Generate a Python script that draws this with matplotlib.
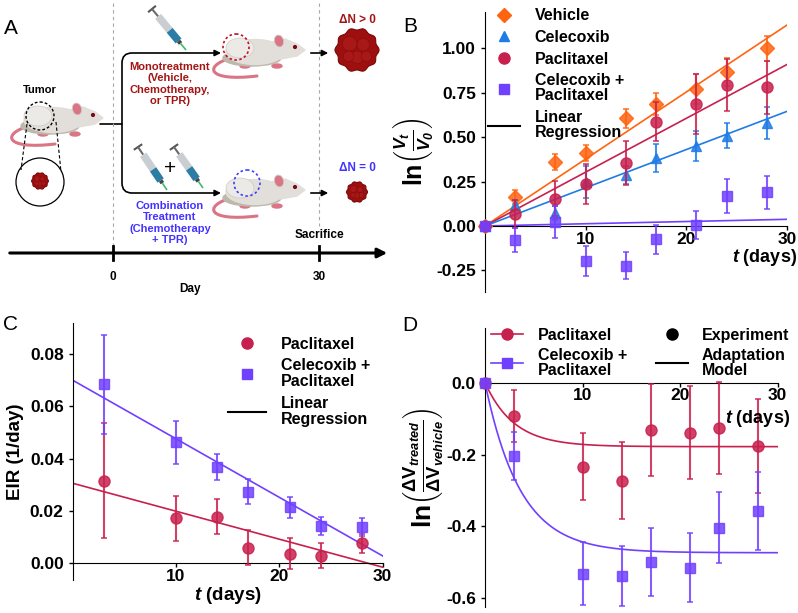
import numpy as np
import matplotlib
matplotlib.use("Agg")
import matplotlib.pyplot as plt
from matplotlib.patches import Ellipse, Circle, Polygon, FancyArrowPatch, PathPatch
from matplotlib.path import Path
from matplotlib.lines import Line2D
from matplotlib.ticker import FormatStrFormatter

plt.rcParams['font.family'] = ['Liberation Sans', 'DejaVu Sans']
plt.rcParams['font.weight'] = 'bold'
plt.rcParams['axes.labelweight'] = 'bold'
plt.rcParams['mathtext.fontset'] = 'custom'
plt.rcParams['mathtext.rm'] = 'Liberation Sans:bold'
plt.rcParams['mathtext.it'] = 'Liberation Sans:italic:bold'
plt.rcParams['mathtext.bf'] = 'Liberation Sans:bold'
plt.rcParams['mathtext.bfit'] = 'Liberation Sans:italic:bold'

ORANGE = '#FF6410'
BLUE = '#1F7BE6'
CRIMSON = '#C8204E'
PURPLE = '#7040FF'
DARKRED = '#A31515'
TXTBLUE = '#4433FF'

######################################################################
# datos panel B: ln(Vt/V0)
days_b = [0, 3, 7, 10, 14, 17, 21, 24, 28]
vehicle = [0, 0.165, 0.358, 0.413, 0.606, 0.687, 0.769, 0.865, 1.0]
vehicle_err = [0, 0.04, 0.045, 0.045, 0.055, 0.06, 0.085, 0.08, 0.07]
celecoxib = [0, 0.118, 0.071, 0.25, 0.287, 0.381, 0.45, 0.507, 0.582]
celecoxib_err = [0, 0.03, 0.04, 0.09, 0.05, 0.08, 0.085, 0.07, 0.09]
paclitaxel = [0, 0.068, 0.154, 0.236, 0.356, 0.587, 0.687, 0.794, 0.78]
paclitaxel_err = [0, 0.08, 0.1, 0.115, 0.125, 0.11, 0.17, 0.145, 0.15]
combo = [0, -0.079, 0.024, -0.197, -0.223, -0.075, 0.006, 0.169, 0.189]
combo_err = [0, 0.07, 0.09, 0.085, 0.075, 0.08, 0.08, 0.095, 0.095]
# pendientes de la regresion (pasan por el origen)
slope_b = {'Vehicle': 0.0377, 'Celecoxib': 0.0215, 'Paclitaxel': 0.0303, 'Combo': 0.00125}

# datos panel C: EIR
days_c = [3, 10, 14, 17, 21, 24, 28]
eir_pac = [0.0316, 0.0172, 0.0178, 0.006, 0.0037, 0.0029, 0.0076]
eir_pac_err = [0.022, 0.0086, 0.0067, 0.0068, 0.0058, 0.0047, 0.0037]
eir_combo = [0.0684, 0.0462, 0.0367, 0.0274, 0.0214, 0.0143, 0.014]
eir_combo_err = [0.019, 0.0082, 0.005, 0.0047, 0.0041, 0.0034, 0.0035]
reg_c_pac = (0.0306, -0.00107)     # intercepto, pendiente
reg_c_combo = (0.070, -0.00224)

# datos panel D: ln(dV treated / dV vehicle)
days_d = [0, 3, 10, 14, 17, 21, 24, 28]
d_pac = [0, -0.092, -0.234, -0.273, -0.132, -0.139, -0.127, -0.176]
d_pac_err = [0, 0.072, 0.093, 0.107, 0.127, 0.13, 0.128, 0.13]
d_combo = [0, -0.203, -0.531, -0.537, -0.498, -0.515, -0.403, -0.357]
d_combo_err = [0, 0.067, 0.088, 0.083, 0.095, 0.096, 0.098, 0.108]
model_pac = (-0.178, 0.336)        # plateau, tasa
model_combo = (-0.473, 0.276)

fig = plt.figure(figsize=(7.98, 6.13), dpi=100)

def fpos(x0, y0, x1, y1):
    # pixeles -> fraccion de figura
    return [x0/798, 1-y1/613, (x1-x0)/798, (y1-y0)/613]

######################################################################
# Panel A (esquema)
axA = fig.add_axes([0, 1-300/613, 400/798, 300/613])
axA.set_xlim(0, 400)
axA.set_ylim(300, 0)
axA.axis('off')

def draw_tumor(ax, cx, cy, R):
    th = np.linspace(0, 2*np.pi, 120)
    r = R*(1 + 0.05*np.cos(10*th))
    ax.add_patch(Polygon(np.c_[cx + r*np.cos(th), cy + r*np.sin(th)], closed=True,
                         fc='#9E0F0F', ec='#7A0808', lw=0.8, zorder=5))
    for a, b, s in [(-0.35, -0.3, 0.35), (0.3, -0.25, 0.3), (0.0, 0.35, 0.3), (-0.4, 0.3, 0.25), (0.45, 0.3, 0.25)]:
        ax.add_patch(Circle((cx + a*R, cy + b*R), s*R, fc='#A81818', ec='#860C0C', lw=0.4, zorder=6))

def draw_mouse(ax, cx, cy):
    fur = '#E2DFDA'
    shade = '#BEB8AC'
    pink = '#D97585'
    tail = Path([(cx-24, cy+6), (cx-52, cy+14), (cx-48, cy+30), (cx+2, cy+24)],
                [Path.MOVETO, Path.CURVE4, Path.CURVE4, Path.CURVE4])
    ax.add_patch(PathPatch(tail, fill=False, ec=pink, lw=2.2, capstyle='round', zorder=2))
    for fx in (cx-10, cx+22):
        ax.add_patch(Ellipse((fx, cy+14), 10, 4, color=pink, zorder=2))
    ax.add_patch(Ellipse((cx-3, cy+6), 58, 16, color=shade, zorder=3))
    ax.add_patch(Ellipse((cx, cy), 58, 25, color=fur, zorder=4))
    ax.add_patch(Polygon([(cx+16, cy-10), (cx+30, cy-13), (cx+42, cy-8), (cx+50, cy-2),
                          (cx+42, cy+4), (cx+26, cy+7), (cx+14, cy+5)], closed=True, color=fur, zorder=4))
    ax.add_patch(Ellipse((cx-15, cy-4), 28, 20, fc='#ECEAE6', ec='#CFCAC2', lw=0.5, zorder=5))
    ax.add_patch(Ellipse((cx+24, cy-11), 9, 12, angle=-15, fc=pink, ec='#CFCAC2', lw=0.6, zorder=6))
    ax.add_patch(Circle((cx+40, cy-5), 1.4, color='#7A0A1A', zorder=7))

def draw_syringe(ax, p0, p1):
    p0 = np.array(p0, float)
    p1 = np.array(p1, float)
    d = p1 - p0
    n = np.array([-d[1], d[0]])/np.hypot(*d)
    pt = lambda f: p0 + f*d
    a, b = p0 + 4*n, p0 - 4*n
    ax.plot([a[0], b[0]], [a[1], b[1]], color='#555555', lw=1.5, zorder=4)
    seg = [(0.0, 0.18, '#6B6B6B', 1.5), (0.18, 0.52, '#C9CED3', 5.5),
           (0.52, 0.78, '#2C7DA6', 5.5), (0.78, 0.84, '#444444', 3), (0.84, 1.0, '#3DBB6A', 1.2)]
    for f0, f1, c, lw in seg:
        q0, q1 = pt(f0), pt(f1)
        ax.plot([q0[0], q1[0]], [q0[1], q1[1]], color=c, lw=lw, solid_capstyle='butt', zorder=4)

# lineas de tiempo
axA.plot([112.7, 112.7], [3, 246], ls=(0, (3, 3)), color='#A0A8B0', lw=0.8)
axA.plot([319, 319], [3, 226], ls=(0, (3, 3)), color='#A0A8B0', lw=0.8)
axA.annotate('', xy=(390, 253), xytext=(7, 253),
             arrowprops=dict(arrowstyle='-|>', lw=2.2, color='black', mutation_scale=14))
for xt in (112.7, 319):
    axA.plot([xt, xt], [246, 260], color='black', lw=2)
axA.text(112.7, 277, '0', ha='center', va='center', fontsize=8.5)
axA.text(319, 277, '30', ha='center', va='center', fontsize=8.5)
axA.text(190, 289, 'Day', ha='center', va='center', fontsize=8.5)
axA.text(319, 235, 'Sacrifice', ha='center', va='center', fontsize=8.5)

# raton inicial
draw_mouse(axA, 53, 120)
axA.add_patch(Circle((40, 116), 14, fill=False, ec='black', ls=(0, (2, 1.5)), lw=1, zorder=8))
axA.text(40, 90, 'Tumor', ha='center', va='center', fontsize=8)
axA.add_patch(Circle((40, 182), 24, fill=False, ec='black', lw=0.9, zorder=8))
axA.plot([27, 21], [124, 170], ls=(0, (3, 2)), color='black', lw=0.8, zorder=8)
axA.plot([56, 61], [122, 172], ls=(0, (3, 2)), color='black', lw=0.8, zorder=8)
draw_tumor(axA, 40, 181, 8)

# ramas
upper = Path([(100, 124), (122, 124), (122, 63), (122, 53), (132, 53), (221, 53)],
             [Path.MOVETO, Path.LINETO, Path.LINETO, Path.CURVE3, Path.CURVE3, Path.LINETO])
lower = Path([(122, 124), (122, 183), (122, 193), (132, 193), (221, 193)],
             [Path.MOVETO, Path.LINETO, Path.CURVE3, Path.CURVE3, Path.LINETO])
for p in (upper, lower):
    axA.add_patch(FancyArrowPatch(path=p, arrowstyle='-|>', mutation_scale=9, lw=1.2, color='black'))
for yy in (53, 193):
    axA.annotate('', xy=(331, yy), xytext=(308, yy),
                 arrowprops=dict(arrowstyle='-|>', lw=1.2, color='black', mutation_scale=9))

axA.text(170, 84, 'Monotreatment\n(Vehicle,\nChemotherapy,\nor TPR)', ha='center', va='center',
         fontsize=8, color=DARKRED, linespacing=1.2)
axA.text(170, 223, 'Combination\nTreatment\n(Chemotherapy\n+ TPR)', ha='center', va='center',
         fontsize=8, color=TXTBLUE, linespacing=1.2)

draw_syringe(axA, (152, 9), (186, 50))
draw_syringe(axA, (138, 147), (167, 190))
draw_syringe(axA, (174, 147), (203, 188))
axA.text(170, 168, '+', ha='center', va='center', fontsize=15, fontweight='normal')

draw_mouse(axA, 255, 52)
axA.add_patch(Circle((236, 47), 13, fill=False, ec='#C0102A', ls=(0, (1.5, 1.5)), lw=1.2, zorder=8))
draw_mouse(axA, 255, 192)
axA.add_patch(Circle((247, 183), 13, fill=False, ec='#3F3FFF', ls=(0, (1.5, 1.5)), lw=1.2, zorder=8))

draw_tumor(axA, 357, 50, 21)
draw_tumor(axA, 357, 192, 10)
axA.text(357, 20, '\u0394N > 0', ha='center', va='center', fontsize=8.5, color=DARKRED)
axA.text(357, 168, '\u0394N = 0', ha='center', va='center', fontsize=8.5, color=TXTBLUE)

######################################################################
def estilo(ax):
    ax.spines[['top', 'right']].set_visible(False)
    ax.spines['bottom'].set_position(('data', 0))
    ax.tick_params(labelsize=12.5, length=3, width=1)
    ax.tick_params(axis='x', pad=1)

eb = dict(capsize=2, elinewidth=1.5, capthick=1.2, alpha=0.85, clip_on=False)

# Panel B
axB = fig.add_axes(fpos(485, 11.7, 787, 291.7))
t_line = np.array([0, 30])
for nombre, c in [('Vehicle', ORANGE), ('Paclitaxel', CRIMSON), ('Celecoxib', BLUE), ('Combo', PURPLE)]:
    axB.plot(t_line, slope_b[nombre]*t_line, color=c, lw=1.2, zorder=2)
axB.errorbar(days_b, vehicle, yerr=vehicle_err, fmt='D', ms=7, color=ORANGE, zorder=3, **eb)
axB.errorbar(days_b, celecoxib, yerr=celecoxib_err, fmt='^', ms=7, color=BLUE, zorder=4, **eb)
axB.errorbar(days_b, paclitaxel, yerr=paclitaxel_err, fmt='o', ms=8, color=CRIMSON, zorder=5, **eb)
axB.errorbar(days_b, combo, yerr=combo_err, fmt='s', ms=7.5, color=PURPLE, zorder=6, **eb)
axB.set_xlim(0, 30)
axB.set_ylim(-0.37, 1.206)
axB.set_xticks([10, 20, 30])
axB.set_yticks([-0.25, 0, 0.25, 0.5, 0.75, 1.0])
axB.yaxis.set_major_formatter(FormatStrFormatter('%.2f'))
estilo(axB)
axB.set_ylabel(r'$\mathbf{ln}\left(\frac{\mathbfit{V_t}}{\mathbfit{V_0}}\right)$', fontsize=18, labelpad=1)
axB.text(31, -0.18, r'$\mathbfit{t}$ (days)', ha='right', va='center', fontsize=13)
hB = [Line2D([], [], marker='D', ls='none', color=ORANGE, ms=7),
      Line2D([], [], marker='^', ls='none', color=BLUE, ms=7),
      Line2D([], [], marker='o', ls='none', color=CRIMSON, ms=8),
      Line2D([], [], marker='s', ls='none', color=PURPLE, ms=7.5),
      Line2D([], [], color='black', lw=1.5)]
legB = axB.legend(hB, ['Vehicle', 'Celecoxib', 'Paclitaxel', 'Celecoxib +\nPaclitaxel', 'Linear\nRegression'],
                  loc='upper left', bbox_to_anchor=(-0.01, 1.035), frameon=False, fontsize=11.5,
                  handlelength=2, handletextpad=0.9, labelspacing=0.42, borderaxespad=0)
for t in legB.get_texts():
    t.set_linespacing(1.0)

# Panel C
axC = fig.add_axes(fpos(72.7, 322.7, 382.7, 580))
axC.plot(t_line, reg_c_pac[0] + reg_c_pac[1]*t_line, color=CRIMSON, lw=1.2, zorder=2)
axC.plot(t_line, reg_c_combo[0] + reg_c_combo[1]*t_line, color=PURPLE, lw=1.2, zorder=2)
axC.errorbar(days_c, eir_pac, yerr=eir_pac_err, fmt='o', ms=8, color=CRIMSON, zorder=3, **eb)
axC.errorbar(days_c, eir_combo, yerr=eir_combo_err, fmt='s', ms=7.5, color=PURPLE, zorder=4, **eb)
axC.set_xlim(0, 30)
axC.set_ylim(-0.0064, 0.092)
axC.set_xticks([10, 20, 30])
axC.set_yticks([0, 0.02, 0.04, 0.06, 0.08])
axC.yaxis.set_major_formatter(FormatStrFormatter('%.2f'))
estilo(axC)
axC.set_ylabel('EIR (1/day)', fontsize=13.5)
axC.set_xlabel(r'$\mathbfit{t}$ (days)', fontsize=13.5, labelpad=1)
hC = [Line2D([], [], marker='o', ls='none', color=CRIMSON, ms=8),
      Line2D([], [], marker='s', ls='none', color=PURPLE, ms=7.5),
      Line2D([], [], color='black', lw=1.5)]
legC = axC.legend(hC, ['Paclitaxel', 'Celecoxib +\nPaclitaxel', 'Linear\nRegression'],
                  loc='upper left', bbox_to_anchor=(0.48, 0.97), frameon=False, fontsize=11.5,
                  handlelength=2.4, handletextpad=0.9, labelspacing=0.4, borderaxespad=0)
for t in legC.get_texts():
    t.set_linespacing(1.1)

# Panel D
axD = fig.add_axes(fpos(485, 328.3, 777.7, 606.7))
t_mod = np.linspace(0, 30, 300)
axD.plot(t_mod, model_pac[0]*(1 - np.exp(-model_pac[1]*t_mod)), color=CRIMSON, lw=1.2, zorder=2)
axD.plot(t_mod, model_combo[0]*(1 - np.exp(-model_combo[1]*t_mod)), color=PURPLE, lw=1.2, zorder=2)
axD.errorbar(days_d, d_pac, yerr=d_pac_err, fmt='o', ms=8, color=CRIMSON, zorder=3, **eb)
axD.errorbar(days_d, d_combo, yerr=d_combo_err, fmt='s', ms=7.5, color=PURPLE, zorder=4, **eb)
axD.set_xlim(0, 30)
axD.set_ylim(-0.623, 0.151)
axD.set_xticks([10, 20, 30])
axD.set_yticks([-0.6, -0.4, -0.2, 0.0])
axD.yaxis.set_major_formatter(FormatStrFormatter('%.1f'))
estilo(axD)
axD.set_ylabel(r'$\mathbf{ln}\left(\frac{\mathbf{\Delta V}_{\mathbfit{treated}}}{\mathbf{\Delta V}_{\mathbfit{vehicle}}}\right)$',
               fontsize=19, labelpad=1)
axD.text(31.3, -0.1, r'$\mathbfit{t}$ (days)', ha='right', va='center', fontsize=13)
hD = [Line2D([], [], marker='o', color=CRIMSON, ms=8, lw=1.2),
      Line2D([], [], marker='s', color=PURPLE, ms=7.5, lw=1.2),
      Line2D([], [], marker='o', ls='none', color='black', ms=8),
      Line2D([], [], color='black', lw=1.5)]
legD = axD.legend(hD, ['Paclitaxel', 'Celecoxib +\nPaclitaxel', 'Experiment', 'Adaptation\nModel'],
                  ncol=2, loc='upper left', bbox_to_anchor=(0.0, 1.025), frameon=False, fontsize=11.5,
                  handlelength=2, handletextpad=0.9, labelspacing=0.3, columnspacing=1.8, borderaxespad=0)
for t in legD.get_texts():
    t.set_linespacing(1.0)

# letras de panel
for letra, x, y in [('A', 11, 28), ('B', 410, 26), ('C', 10, 324), ('D', 410, 326)]:
    fig.text(x/798, 1-y/613, letra, fontsize=15, fontweight='normal', ha='center', va='center')

fig.savefig('out.png', dpi=100)
